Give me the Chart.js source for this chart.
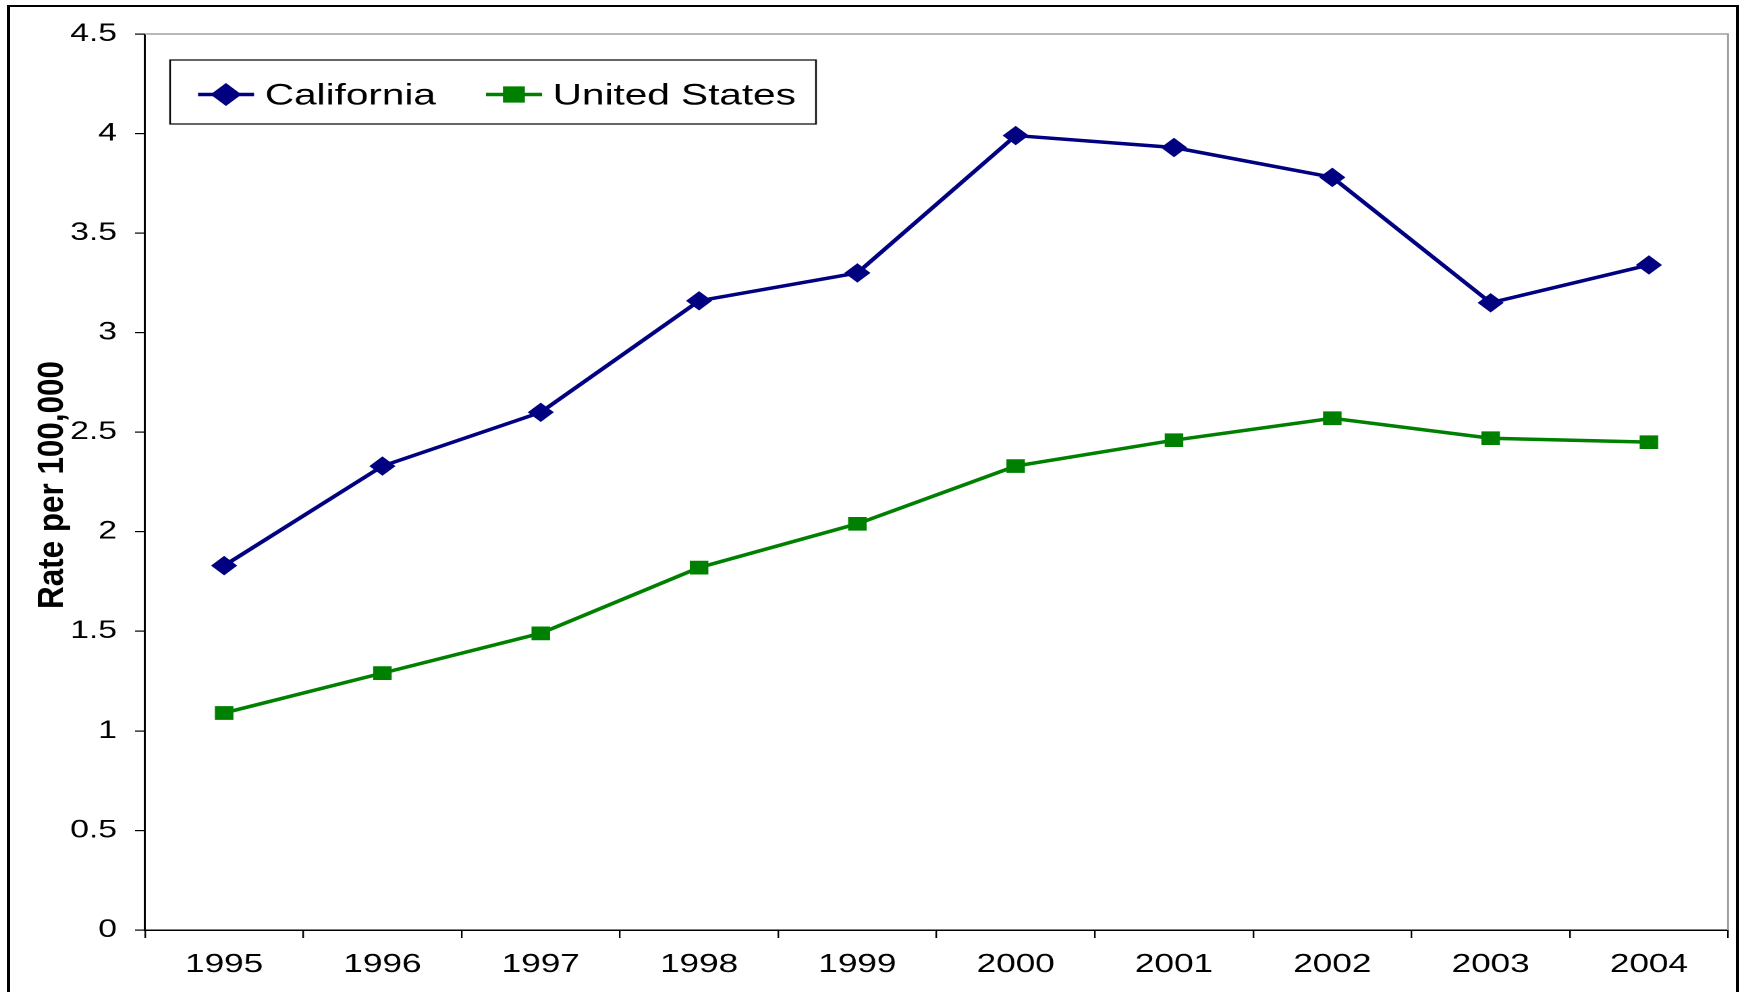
<!DOCTYPE html>
<html>
<head>
<meta charset="utf-8">
<title>Rate per 100,000: California and United States, 1995-2004</title>
<script src="https://cdn.jsdelivr.net/npm/chart.js@4.4.1/dist/chart.umd.min.js"></script>
<style>
  html, body { margin: 0; padding: 0; background: #fff; overflow: hidden; }
  /* the source picture was stretched sideways, so draw narrow and stretch */
  #stretch { position: absolute; left: 0; top: 0; width: 1292px; height: 992px; transform-origin: 0 0; transform: scaleX(1.34985); }
  #frame { position: absolute; left: 7px; top: 5px; width: 1732px; height: 1010px; box-sizing: border-box; border: 3px solid #000; border-top-width: 2px; }
</style>
</head>
<body>
<div id="stretch"><canvas id="chart" width="1292" height="992"></canvas></div>
<div id="frame"></div>
<script>
(function(){
  var S = 1744 / 1292;
  var FONT = '"Liberation Sans", Arial, sans-serif';

  var years = ['1995', '1996', '1997', '1998', '1999', '2000', '2001', '2002', '2003', '2004'];
  var californiaRates = [1.83, 2.33, 2.60, 3.16, 3.30, 3.99, 3.93, 3.78, 3.15, 3.34];
  var usRates = [1.09, 1.29, 1.49, 1.82, 2.04, 2.33, 2.46, 2.57, 2.47, 2.45];
  var yMin = 0, yMax = 4.5, yStep = 0.5;

  // grey top/right plot edge, boxed legend and the axis title
  var excelDecor = {
    id: 'excelDecor',
    afterDraw: function(chart){
      var ctx = chart.ctx, a = chart.chartArea;
      ctx.save();
      ctx.strokeStyle = '#a0a0a0';
      ctx.lineWidth = 1.5;
      ctx.beginPath();
      ctx.moveTo(a.left, a.top);
      ctx.lineTo(a.right, a.top);
      ctx.lineTo(a.right, a.bottom);
      ctx.stroke();

      var bx = 126, by = 60, bw = 478.5, bh = 64;
      ctx.fillStyle = '#fff';
      ctx.fillRect(bx, by, bw, bh);
      ctx.strokeStyle = '#000';
      ctx.lineWidth = 1.2;
      ctx.strokeRect(bx, by, bw, bh);
      var cy = by + bh / 2 + 2.5;
      var starts = [146.7, 360];
      chart.data.datasets.forEach(function(ds, i){
        var x0 = starts[i];
        ctx.strokeStyle = ds.borderColor;
        ctx.lineWidth = ds.borderWidth;
        ctx.beginPath();
        ctx.moveTo(x0, cy);
        ctx.lineTo(x0 + 41.5, cy);
        ctx.stroke();
        ctx.fillStyle = ds.pointBackgroundColor;
        ctx.strokeStyle = ds.pointBorderColor;
        Chart.helpers.drawPoint(ctx, { pointStyle: ds.pointStyle, radius: ds.pointRadius, rotation: 0, borderWidth: 1 }, x0 + 20.7, cy);
        ctx.fillStyle = '#000';
        ctx.font = '30px ' + FONT;
        ctx.textAlign = 'left';
        ctx.textBaseline = 'middle';
        ctx.fillText(ds.label, x0 + 49.5, cy + 1.5);
      });

      // title is bold and a bit condensed in the source, not stretched
      ctx.translate(53 / S, 485);
      ctx.scale(1 / S, 1);
      ctx.rotate(-Math.PI / 2);
      ctx.font = 'bold 36px ' + FONT;
      var w = ctx.measureText('Rate per 100,000').width;
      ctx.scale(248 / w, 1);
      ctx.textAlign = 'center';
      ctx.textBaseline = 'middle';
      ctx.fillStyle = '#000';
      ctx.fillText('Rate per 100,000', 0, 0);
      ctx.restore();
    }
  };

  new Chart(document.getElementById('chart'), {
    type: 'line',
    data: {
      labels: years,
      datasets: [
        {
          label: 'California', data: californiaRates,
          borderColor: '#000080', backgroundColor: '#000080',
          pointBackgroundColor: '#000080', pointBorderColor: '#000080',
          pointStyle: 'rectRot', pointRadius: 9, pointBorderWidth: 1,
          borderWidth: 3.5, tension: 0, fill: false
        },
        {
          label: 'United States', data: usRates,
          borderColor: '#008000', backgroundColor: '#008000',
          pointBackgroundColor: '#008000', pointBorderColor: '#008000',
          pointStyle: 'rect', pointRadius: 9, pointBorderWidth: 1,
          borderWidth: 3.5, tension: 0, fill: false
        }
      ]
    },
    options: {
      responsive: false,
      devicePixelRatio: 2,
      animation: false,
      layout: { padding: { top: 34, right: 11.8, bottom: 0, left: 0 } },
      plugins: { legend: { display: false }, tooltip: { enabled: false }, title: { display: false } },
      scales: {
        x: {
          type: 'category', offset: true,
          grid: { offset: true, drawOnChartArea: false, tickLength: 8, color: '#000', lineWidth: 1.2 },
          border: { color: '#000', width: 1.5 },
          ticks: { color: '#000', font: { family: FONT, size: 26 }, padding: 11, maxRotation: 0, autoSkip: false },
          afterFit: function(s){ s.height = 62; }
        },
        y: {
          min: yMin, max: yMax,
          ticks: {
            stepSize: yStep, color: '#000', font: { family: FONT, size: 25 }, padding: 13.3,
            callback: function(v){ return String(Math.round(v * 10) / 10); }
          },
          grid: { drawOnChartArea: false, tickLength: 7.4, color: '#000', lineWidth: 1.2 },
          border: { color: '#000', width: 1.5 },
          afterFit: function(s){ s.width = 107.4; }
        }
      }
    },
    plugins: [excelDecor]
  });
})();
</script>
</body>
</html>
